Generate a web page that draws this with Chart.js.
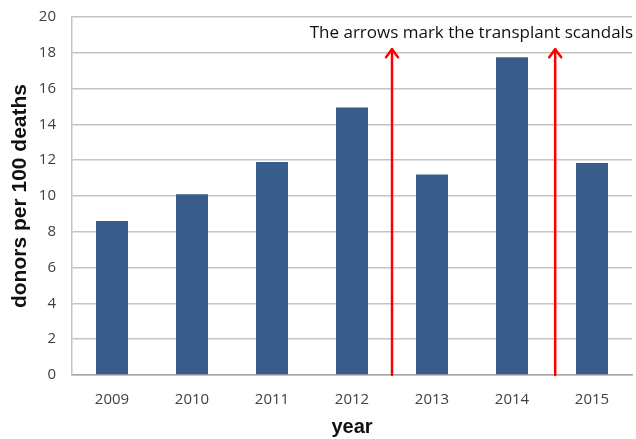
<!DOCTYPE html>
<html>
<head>
<meta charset="utf-8">
<script src="https://cdn.jsdelivr.net/npm/chart.js@4"></script>
<style>
  html, body { margin: 0; padding: 0; background: #fff; }
  #wrap { width: 636px; height: 439px; }
</style>
</head>
<body>
<div id="wrap"><canvas id="chart"></canvas></div>
<script>
const years   = ['2009', '2010', '2011', '2012', '2013', '2014', '2015'];
const donors  = [8.6, 10.1, 11.9, 14.95, 11.2, 17.75, 11.85];
const yTicks  = [0, 2, 4, 6, 8, 10, 12, 14, 16, 18, 20];
// arrows sit between categories (index units on the x scale)
const arrowAt  = [3.5, 5.54];
const arrowTop = 18.2;
const note     = 'The arrows mark the transplant scandals';

const scandalArrows = {
    id: 'scandalArrows',
    afterDatasetsDraw(chart) {
        const { ctx, scales: { x, y }, chartArea } = chart;
        ctx.save();
        ctx.strokeStyle = '#ff0000';
        ctx.lineWidth = 2.5;
        ctx.lineCap = 'round';
        ctx.lineJoin = 'round';
        arrowAt.forEach(v => {
            const px = x.getPixelForValue(v);
            const y0 = y.getPixelForValue(0);
            const y1 = y.getPixelForValue(arrowTop);
            ctx.beginPath();
            ctx.moveTo(px, y0);
            ctx.lineTo(px, y1);
            ctx.stroke();
            ctx.beginPath();
            ctx.moveTo(px - 6, y1 + 8);
            ctx.lineTo(px, y1);
            ctx.lineTo(px + 6, y1 + 8);
            ctx.stroke();
        });
        ctx.fillStyle = '#111';
        ctx.font = '17px "Open Sans", sans-serif';
        ctx.textAlign = 'right';
        ctx.textBaseline = 'middle';
        ctx.fillText(note, chartArea.right + 1, y.getPixelForValue(19.12));
        ctx.restore();
    }
};

new Chart(document.getElementById('chart'), {
    type: 'bar',
    data: {
        labels: years,
        datasets: [{
            data: donors,
            backgroundColor: '#385d8a',
            borderWidth: 0,
            barPercentage: 0.4,
            categoryPercentage: 1,
        }],
    },
    options: {
        responsive: true,
        maintainAspectRatio: false,
        animation: false,
        layout: { padding: { top: 0, right: 4, left: 0, bottom: 0 } },
        plugins: {
            legend: { display: false },
            tooltip: { enabled: false },
        },
        scales: {
            x: {
                grid: { display: false },
                border: { color: '#a6a6a6', width: 1.5 },
                ticks: { color: '#404040', font: { family: '"Open Sans", sans-serif', size: 15 }, padding: 8 },
                title: {
                    display: true, text: 'year', color: '#111',
                    font: { family: '"Liberation Sans", Arial, sans-serif', size: 20, weight: 'bold' },
                    padding: { top: 8, bottom: 0 },
                },
                afterFit(s) { s.height = 64; },
            },
            y: {
                min: 0,
                max: 20,
                afterBuildTicks(s) { s.ticks = yTicks.map(v => ({ value: v })); },
                grid: { color: '#c4c4c4', lineWidth: 1.5, drawTicks: false },
                border: { color: '#c4c4c4', width: 1.5 },
                ticks: { color: '#404040', font: { family: '"Open Sans", sans-serif', size: 15 }, padding: 16 },
                title: {
                    display: true, text: 'donors per 100 deaths', color: '#111',
                    font: { family: '"Liberation Sans", Arial, sans-serif', size: 21, weight: 'bold' },
                    padding: { top: 8, bottom: 0 },
                },
                afterFit(s) { s.width = 72; s.paddingTop = 17; },
            },
        },
    },
    plugins: [scandalArrows],
});
</script>
</body>
</html>
